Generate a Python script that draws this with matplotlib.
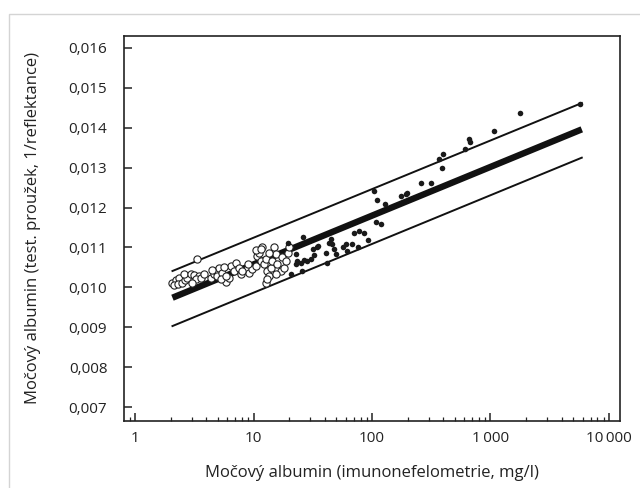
import matplotlib
matplotlib.use("Agg")
import matplotlib.pyplot as plt
from matplotlib.patches import Rectangle

plt.rcParams["font.family"] = ["Open Sans", "DejaVu Sans"]

# open circles (low albumin range)
open_x = [2.07, 2.21, 2.35, 2.13, 2.32, 2.51, 2.64, 2.77, 2.59, 2.95, 3.15, 3.47, 3.26, 3.59,
          3.05, 3.36, 4.36, 4.65, 4.80, 5.12, 4.96, 5.46, 5.83, 6.22, 5.29, 6.43, 7.08, 6.86,
          7.56, 7.80, 8.89, 9.18, 9.79, 10.45, 10.8, 11.1, 11.9, 11.5, 12.3, 12.7, 13.1, 13.5,
          12.7, 13.1, 14.0, 14.4, 14.9, 15.4, 15.9, 17.0, 17.5, 18.1, 18.7, 19.4, 20.0, 10.4,
          11.5, 13.5, 8.9, 8.06, 5.65, 4.50, 5.83, 3.83, 15.4]
open_y = [0.01012, 0.01018, 0.01023, 0.01006, 0.01008, 0.01012, 0.01018, 0.01024, 0.01033,
          0.01034, 0.01031, 0.01029, 0.01020, 0.01024, 0.01012, 0.01070, 0.01024, 0.01033,
          0.01041, 0.01049, 0.01029, 0.01037, 0.01014, 0.01024, 0.01020, 0.01054, 0.01062,
          0.01041, 0.01049, 0.01033, 0.01045, 0.01037, 0.01045, 0.01054, 0.01079, 0.01087,
          0.01100, 0.01066, 0.01058, 0.01070, 0.01041, 0.01029, 0.01012, 0.01020, 0.01049,
          0.01066, 0.01100, 0.01083, 0.01058, 0.01041, 0.01075, 0.01049, 0.01066, 0.01087,
          0.01100, 0.01093, 0.01095, 0.01087, 0.01058, 0.01041, 0.01051, 0.01043, 0.01029,
          0.01033, 0.01033]

# filled dots (higher albumin range)
fill_x = [19.4, 26.4, 22.8, 23.5, 25.1, 26.8, 28.5, 30.5, 31.5, 34.2, 32.5, 40.8, 42.1, 25.9,
          20.7, 22.8, 43.5, 34.7, 44.9, 46.4, 48.0, 49.6, 56.4, 60.2, 62.1, 68.4, 70.8, 75.5,
          78.0, 85.9, 91.7, 104, 111, 108, 119, 129, 175, 193, 199, 259, 314, 370, 394, 389,
          612, 653, 675, 1077, 1774, 5730]
fill_y = [0.01112, 0.01126, 0.01083, 0.01066, 0.01062, 0.01068, 0.01066, 0.01070, 0.01095,
          0.01101, 0.01081, 0.01087, 0.01062, 0.01041, 0.01033, 0.01058, 0.01112, 0.01104,
          0.01121, 0.01108, 0.01095, 0.01083, 0.01100, 0.01108, 0.01091, 0.01108, 0.01135,
          0.01100, 0.01141, 0.01137, 0.01118, 0.01242, 0.01218, 0.01165, 0.01158, 0.01210,
          0.01229, 0.01233, 0.01237, 0.01261, 0.01261, 0.01321, 0.01334, 0.01300, 0.01346,
          0.01371, 0.01364, 0.01392, 0.01438, 0.01460]

# regression line with its limits
line_x = [2.07, 5900]
fit_y = [0.00974, 0.01396]
upper_y = [0.01041, 0.01462]
lower_y = [0.00903, 0.01325]

x_ticks = [1, 10, 100, 1000, 10000]
x_labels = ["1", "10", "100", "1\u2009000", "10\u2009000"]
y_ticks = [0.007, 0.008, 0.009, 0.010, 0.011, 0.012, 0.013, 0.014, 0.015, 0.016]
y_labels = ["0,007", "0,008", "0,009", "0,010", "0,011", "0,012", "0,013", "0,014", "0,015", "0,016"]

fig = plt.figure(figsize=(6.4, 4.88), dpi=100)
fig.patches.append(Rectangle((9 / 640, -0.1), 1.2, (488 - 14) / 488 + 0.1,
                             transform=fig.transFigure, fill=False,
                             edgecolor="#d4d4d4", linewidth=1.0))
ax = fig.add_axes([124 / 640, (488 - 421) / 488, 496 / 640, 385 / 488])

ax.plot(line_x, fit_y, color="#111111", linewidth=4.6, solid_capstyle="butt", zorder=2)
ax.plot(line_x, upper_y, color="#111111", linewidth=1.4, zorder=2)
ax.plot(line_x, lower_y, color="#111111", linewidth=1.4, zorder=2)
ax.plot(open_x, open_y, "o", markersize=5.2, markerfacecolor="white",
        markeredgecolor="#222222", markeredgewidth=0.8, zorder=3)
ax.plot(fill_x, fill_y, "o", markersize=4, color="#1a1a1a", markeredgewidth=0, zorder=3)

ax.set_xscale("log")
ax.set_xlim(0.807, 12400)
ax.set_ylim(0.00665, 0.0163)
ax.set_xticks(x_ticks)
ax.set_xticklabels(x_labels)
ax.set_yticks(y_ticks)
ax.set_yticklabels(y_labels)

for s in ax.spines.values():
    s.set_linewidth(1.2)
    s.set_color("#222222")
ax.tick_params(which="major", direction="in", length=6, width=1.1, labelsize=11,
               colors="#222222", pad=7)
ax.tick_params(axis="y", which="major", pad=12)
ax.tick_params(which="minor", direction="in", length=3, width=0.9, colors="#222222")
ax.tick_params(axis="y", which="minor", left=False)

ax.set_xlabel("Močový albumin (imunonefelometrie, mg/l)", fontsize=12, color="#222222", labelpad=14)
ax.set_ylabel("Močový albumin (test. proužek, 1/reflektance)", fontsize=12, color="#222222", labelpad=20)

fig.savefig("out.png", dpi=100)
